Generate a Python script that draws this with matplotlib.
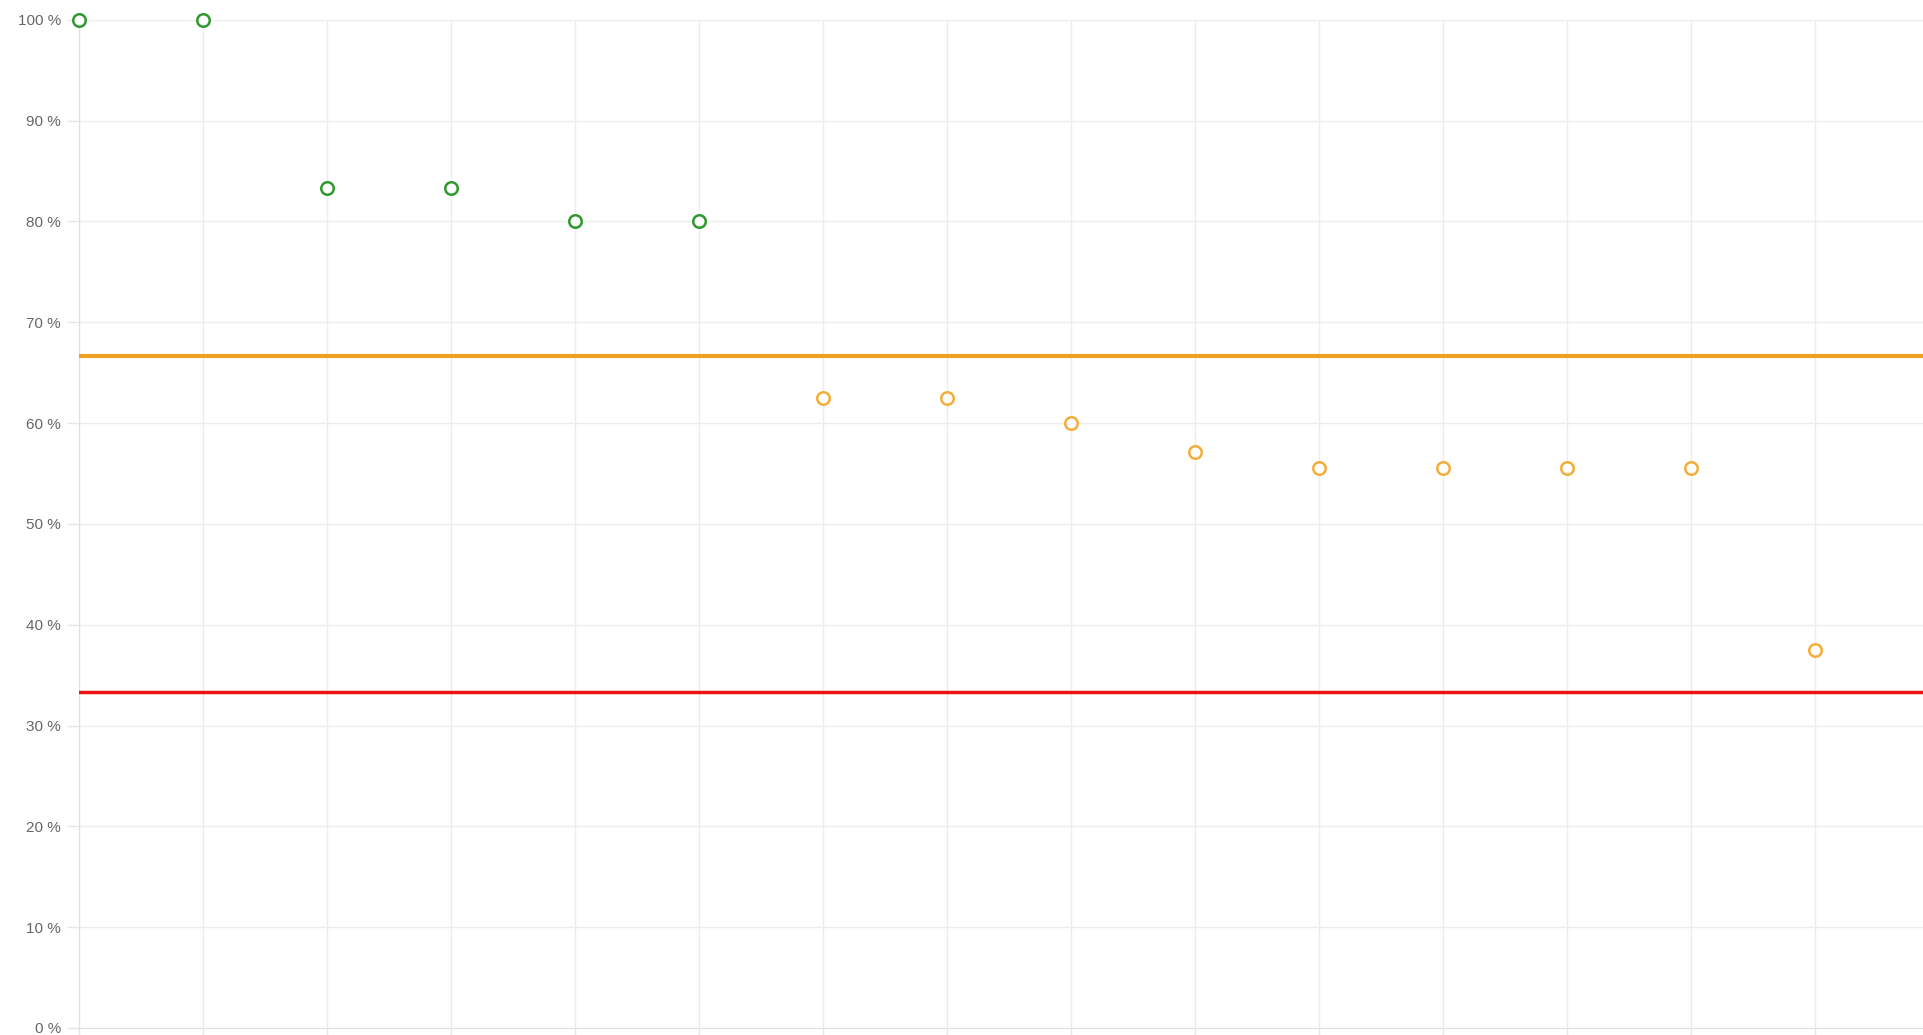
import matplotlib.pyplot as plt

# share of passes per item, sorted descending
positions = list(range(15))
good_values = [100, 100, 83.33, 83.33, 80, 80]
mid_values = [62.5, 62.5, 60, 57.14, 55.56, 55.56, 55.56, 55.56, 37.5]
upper_limit = 66.67
lower_limit = 33.33
y_ticks = [0, 10, 20, 30, 40, 50, 60, 70, 80, 90, 100]
y_labels = [f"{v} %" for v in y_ticks]

fig = plt.figure(figsize=(19.24, 10.35), dpi=100)
ax = fig.add_axes([0.041, 0.0068, 0.959, 0.974])

ax.set_xlim(0, 14.88)
ax.set_ylim(0, 100)

ax.set_xticks(positions)
ax.set_xticklabels([])
ax.set_yticks(y_ticks)
ax.set_yticklabels(y_labels, fontsize=11, color="#666666", family="Liberation Sans")
ax.tick_params(axis="y", length=9, color="#e6e6e6", width=1, pad=4)
ax.tick_params(axis="x", length=8, color="#e6e6e6", width=1)
ax.grid(True, color="#ececec", linewidth=1)
ax.set_axisbelow(True)
for side in ["top", "right"]:
    ax.spines[side].set_visible(False)
ax.spines["left"].set_color("#e0e0e0")
ax.spines["bottom"].set_color("#e0e0e0")

ax.axhline(upper_limit, color="#f0a020", linewidth=3, zorder=3)
ax.axhline(lower_limit, color="#ee1111", linewidth=2.5, zorder=3)

n_good = len(good_values)
ax.plot(positions[:n_good], good_values, linestyle="none", marker="o",
        markersize=9, markerfacecolor="white", markeredgecolor="#2e9a2e",
        markeredgewidth=1.8, clip_on=False, zorder=4)
ax.plot(positions[n_good:], mid_values, linestyle="none", marker="o",
        markersize=9, markerfacecolor="white", markeredgecolor="#f5ad3a",
        markeredgewidth=1.8, clip_on=False, zorder=4)

fig.savefig("out.png", dpi=100)
